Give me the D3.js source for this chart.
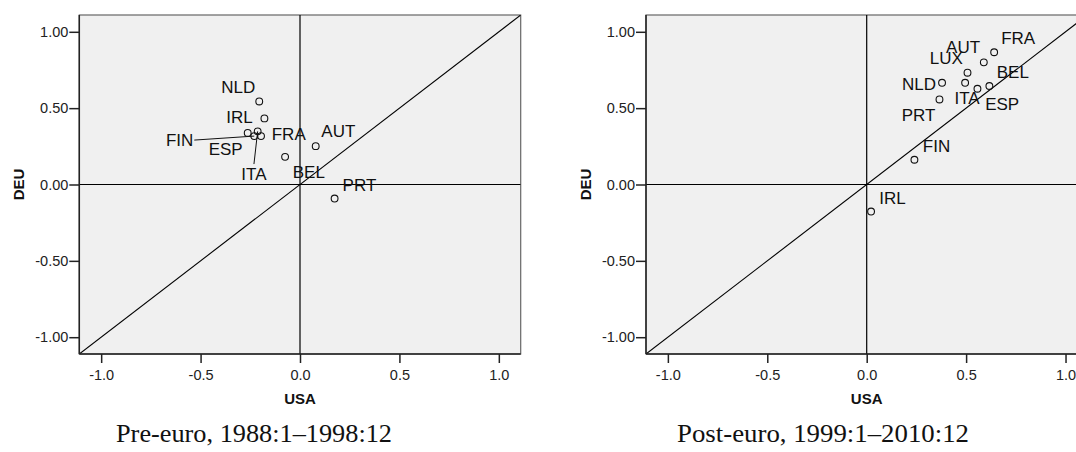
<!DOCTYPE html>
<html>
<head>
<meta charset="utf-8">
<script src="https://cdn.jsdelivr.net/npm/d3@7"></script>
<style>
  html, body { margin: 0; padding: 0; background: #fff; }
  svg { display: block; }
</style>
</head>
<body>
<svg id="chart" width="1076" height="452"></svg>
<script>
// ---------- data ----------
const tickValuesX = [-1.0, -0.5, 0.0, 0.5, 1.0];
const tickValuesY = [-1.0, -0.5, 0.0, 0.5, 1.0];
const axisDomain = [-1.11, 1.11];

const preCountries = ["NLD", "IRL", "FIN", "ESP", "ITA", "FRA", "AUT", "BEL", "PRT"];
const preUSA       = [-0.205, -0.179, -0.230, -0.263, -0.213, -0.196, 0.079, -0.075, 0.174];
const preDEU       = [0.544, 0.433, 0.317, 0.338, 0.348, 0.317, 0.251, 0.181, -0.092];

const postCountries = ["FRA", "AUT", "LUX", "ITA", "NLD", "ESP", "BEL", "PRT", "FIN", "IRL"];
const postUSA       = [0.641, 0.589, 0.507, 0.495, 0.379, 0.557, 0.617, 0.366, 0.240, 0.022];
const postDEU       = [0.866, 0.800, 0.732, 0.666, 0.666, 0.627, 0.645, 0.557, 0.162, -0.177];

const xTitle = "USA";
const yTitle = "DEU";
const captions = ["Pre-euro, 1988:1\u20131998:12", "Post-euro, 1999:1\u20132010:12"];

// ---------- label layout (pixels, relative to point) ----------
const preLabelLayout = {
  NLD: {a: "end",    dx: -4,   dy: -8},
  IRL: {a: "end",    dx: -11.6,dy: 5},
  FIN: {a: "end",    dx: -61,  dy: 10,  leader: true},
  ESP: {a: "end",    dx: -5,   dy: 22.6},
  ITA: {a: "middle", dx: -3.7, dy: 48.7, leader: true},
  FRA: {a: "start",  dx: 10.7, dy: 4},
  AUT: {a: "start",  dx: 5.6,  dy: -8.7},
  BEL: {a: "start",  dx: 7.7,  dy: 21.6},
  PRT: {a: "start",  dx: 8,    dy: -7.6}
};
const postLabelLayout = {
  FRA: {a: "start",  dx: 7,    dy: -8},
  AUT: {a: "end",    dx: -3.7, dy: -9},
  LUX: {a: "end",    dx: -4.6, dy: -8.4},
  ITA: {a: "middle", dx: 2,    dy: 21},
  NLD: {a: "end",    dx: -6,   dy: 7.3},
  ESP: {a: "start",  dx: 7.7,  dy: 21.3},
  BEL: {a: "start",  dx: 7.4,  dy: -7.7},
  PRT: {a: "end",    dx: -4,   dy: 21.4},
  FIN: {a: "start",  dx: 8.4,  dy: -8},
  IRL: {a: "start",  dx: 8.3,  dy: -7.3}
};

// ---------- drawing ----------
const svg = d3.select("#chart");
const sans = "'Liberation Sans', Arial, sans-serif";
const loc = d3.formatLocale({decimal: ".", thousands: ",", grouping: [3], currency: ["", ""], minus: "-"});
const fmtX = loc.format(".1f");
const fmtY = loc.format(".2f");

const plotW = 441.4, plotTop = 15, plotBottom = 354;

function drawPanel(x0, countries, usa, deu, layout, caption, capX0, capX1) {
  const g = svg.append("g");
  const x = d3.scaleLinear().domain(axisDomain).range([x0, x0 + plotW]);
  const y = d3.scaleLinear().domain(axisDomain).range([plotBottom, plotTop]);

  const clipId = "clip" + Math.round(x0);
  svg.append("clipPath").attr("id", clipId)
    .append("rect").attr("x", x0).attr("y", plotTop).attr("width", plotW).attr("height", plotBottom - plotTop);

  // background frame
  g.append("rect")
    .attr("x", x0).attr("y", plotTop)
    .attr("width", plotW).attr("height", plotBottom - plotTop)
    .attr("fill", "#f0f0f0").attr("stroke", "#666").attr("stroke-width", 1.2);

  const inner = g.append("g").attr("clip-path", `url(#${clipId})`);
  // reference lines
  inner.append("line").attr("x1", x(axisDomain[0])).attr("x2", x(axisDomain[1]))
    .attr("y1", y(0)).attr("y2", y(0)).attr("stroke", "#000").attr("stroke-width", 1.2);
  inner.append("line").attr("x1", x(0)).attr("x2", x(0))
    .attr("y1", y(axisDomain[0])).attr("y2", y(axisDomain[1])).attr("stroke", "#000").attr("stroke-width", 1.2);
  inner.append("line").attr("x1", x(axisDomain[0])).attr("y1", y(axisDomain[0]))
    .attr("x2", x(axisDomain[1])).attr("y2", y(axisDomain[1])).attr("stroke", "#000").attr("stroke-width", 1.1);

  // axes
  const gx = g.append("g").attr("transform", `translate(0,${plotBottom})`)
    .call(d3.axisBottom(x).tickValues(tickValuesX).tickFormat(fmtX).tickSize(9).tickPadding(7));
  const gy = g.append("g").attr("transform", `translate(${x0},0)`)
    .call(d3.axisLeft(y).tickValues(tickValuesY).tickFormat(fmtY).tickSize(10).tickPadding(1));
  [gx, gy].forEach(a => {
    a.select(".domain").attr("stroke", "#222").attr("stroke-width", 1.5);
    a.selectAll(".tick line").attr("stroke", "#222").attr("stroke-width", 1.5);
    a.selectAll(".tick text").attr("fill", "#222").style("font-family", sans).style("font-size", "14.5px");
  });
  gx.select(".domain").attr("d", `M${x0},0H${x0 + plotW}`);
  gy.select(".domain").attr("d", `M0,${plotTop}V${plotBottom}`);

  // axis titles
  g.append("text").attr("x", x(0)).attr("y", 404).attr("text-anchor", "middle")
    .style("font-family", sans).style("font-size", "15px").style("font-weight", "bold").attr("fill", "#111")
    .text(xTitle);
  g.append("text").attr("transform", `translate(${x0 - 55.5},${y(0)}) rotate(-90)`).attr("text-anchor", "middle")
    .style("font-family", sans).style("font-size", "15px").style("font-weight", "bold").attr("fill", "#111")
    .text(yTitle);

  // points and labels
  const pts = countries.map((c, i) => ({c, px: x(usa[i]), py: y(deu[i]), L: layout[c]}));
  const r = 3.4;
  const pg = g.append("g").attr("clip-path", `url(#${clipId})`);
  pts.forEach(p => {
    if (p.L.leader) {
      const tx = p.px + p.L.dx, ty = p.py + p.L.dy;
      let sx, sy;
      if (p.L.a === "end") { sx = tx + 1; sy = ty - 6; }
      else { sx = tx; sy = ty - 16; }
      pg.append("line").attr("x1", sx).attr("y1", sy).attr("x2", p.px).attr("y2", p.py)
        .attr("stroke", "#111").attr("stroke-width", 1);
    }
  });
  pg.selectAll("circle.pt").data(pts).join("circle").attr("class", "pt")
    .attr("cx", d => d.px).attr("cy", d => d.py).attr("r", r)
    .attr("fill", "none").attr("stroke", "#111").attr("stroke-width", 1.1);
  pg.selectAll("text.lbl").data(pts).join("text").attr("class", "lbl")
    .attr("x", d => d.px + d.L.dx).attr("y", d => d.py + d.L.dy)
    .attr("text-anchor", d => d.L.a)
    .style("font-family", sans).style("font-size", "17px").attr("fill", "#111")
    .text(d => d.c);

  // caption
  svg.append("text").attr("x", capX0).attr("y", 442)
    .attr("textLength", capX1 - capX0).attr("lengthAdjust", "spacingAndGlyphs")
    .style("font-family", "'Liberation Serif', 'Times New Roman', serif").style("font-size", "25px").attr("fill", "#111")
    .text(caption);
}

drawPanel(79.3, preCountries, preUSA, preDEU, preLabelLayout, captions[0], 116, 392);
drawPanel(646, postCountries, postUSA, postDEU, postLabelLayout, captions[1], 677, 969);
</script>
</body>
</html>
